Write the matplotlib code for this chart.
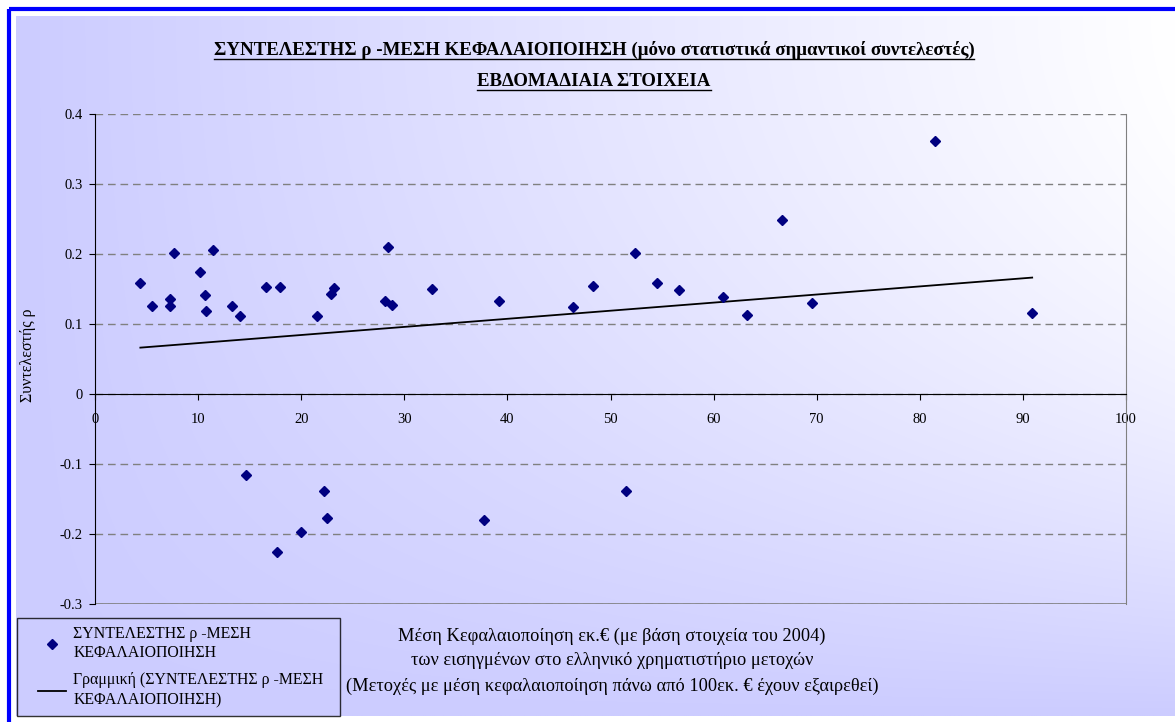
import matplotlib
matplotlib.use("Agg")
import matplotlib.pyplot as plt
import numpy as np
from matplotlib.legend_handler import HandlerLine2D
from matplotlib.lines import Line2D
from matplotlib.patches import Rectangle

plt.rcParams["font.family"] = ["Liberation Serif", "DejaVu Serif"]

# mean market cap (mil. EUR, 2004) and significant rho coefficient per stock
cap = [4.4, 5.5, 7.3, 7.3, 7.7, 10.2, 10.7, 10.8, 11.4, 13.3, 14.1, 16.6, 17.9,
       21.5, 22.9, 23.2, 28.1, 28.4, 28.8, 32.7, 39.2, 46.4, 48.3, 52.4, 54.5,
       56.6, 60.9, 63.2, 66.6, 69.5, 81.5, 90.9,
       14.6, 17.7, 20.0, 22.2, 22.5, 37.7, 51.5]
rho = [0.158, 0.126, 0.136, 0.126, 0.201, 0.175, 0.141, 0.119, 0.206, 0.126,
       0.112, 0.153, 0.153, 0.112, 0.143, 0.152, 0.133, 0.210, 0.127, 0.150,
       0.133, 0.125, 0.155, 0.201, 0.159, 0.149, 0.139, 0.113, 0.249, 0.130,
       0.362, 0.116,
       -0.115, -0.226, -0.197, -0.138, -0.177, -0.180, -0.139]

y_ticks = [-0.3, -0.2, -0.1, 0.0, 0.1, 0.2, 0.3, 0.4]
x_ticks = [0, 10, 20, 30, 40, 50, 60, 70, 80, 90, 100]

title_1 = "ΣΥΝΤΕΛΕΣΤΗΣ ρ -ΜΕΣΗ ΚΕΦΑΛΑΙΟΠΟΙΗΣΗ (μόνο στατιστικά σημαντικοί συντελεστές)"
title_2 = "ΕΒΔΟΜΑΔΙΑΙΑ ΣΤΟΙΧΕΙΑ"
x_label = ("Μέση Κεφαλαιοποίηση εκ.€ (με βάση στοιχεία του 2004)\n"
           "των εισηγμένων στο ελληνικό χρηματιστήριο μετοχών\n"
           "(Μετοχές με μέση κεφαλαιοποίηση πάνω από 100εκ. € έχουν εξαιρεθεί)")
y_label = "Συντελεστής ρ"
series_label = "ΣΥΝΤΕΛΕΣΤΗΣ ρ -ΜΕΣΗ\nΚΕΦΑΛΑΙΟΠΟΙΗΣΗ"
trend_label = "Γραμμική (ΣΥΝΤΕΛΕΣΤΗΣ ρ -ΜΕΣΗ\nΚΕΦΑΛΑΙΟΠΟΙΗΣΗ)"

W, H = 1175, 722
LAVENDER = np.array([204, 204, 255]) / 255
GRID = "#808080"

fig = plt.figure(figsize=(W / 100, H / 100), dpi=100)
fig.patch.set_facecolor("white")

# background layer in pixel coordinates: gradient chart area + blue frame
bg = fig.add_axes([0, 0, 1, 1], zorder=-10)
bg.set_xlim(0, W)
bg.set_ylim(H, 0)
bg.axis("off")
gx = np.linspace(0, 1, 400)
gy = np.linspace(0, 1, 300)
t = gx[None, :] * (1 - gy[:, None] ** 2)
img = LAVENDER + (1 - LAVENDER) * t[..., None]
bg.imshow(img, extent=(16, W, 716, 16), aspect="auto", interpolation="bilinear")
bg.add_patch(Rectangle((9, 9), W + 20, H + 20, fill=False,
                       edgecolor="#0000FF", linewidth=3))

ax = fig.add_axes([95 / W, 1 - 604 / H, (1126 - 95) / W, (604 - 114) / H])
ax.patch.set_alpha(0)
ax.set_xlim(0, 100)
ax.set_ylim(-0.3, 0.4)

ax.plot(cap, rho, "D", color="#000080", markersize=5.5, linestyle="none",
        label=series_label, zorder=4)

slope, intercept = np.polyfit(cap, rho, 1)
x_fit = np.array([min(cap), max(cap)])
ax.plot(x_fit, intercept + slope * x_fit, color="black", linewidth=1.3,
        label=trend_label, zorder=3)

ax.set_yticks(y_ticks)
ax.set_yticklabels(["0" if abs(v) < 1e-9 else f"{v:.1f}" for v in y_ticks])
ax.set_xticks(x_ticks)
ax.yaxis.grid(True, color=GRID, linestyle=(0, (5.5, 3.5)), linewidth=1.0)
ax.set_axisbelow(True)

ax.spines["top"].set_visible(False)
ax.spines["right"].set_color(GRID)
ax.spines["left"].set_color("black")
ax.spines["bottom"].set_position(("data", 0))
ax.spines["bottom"].set_color("black")
ax.axhline(-0.3, color=GRID, linewidth=1.2, zorder=1)
ax.tick_params(axis="y", direction="out", length=4, pad=5, labelsize=10.5)
ax.tick_params(axis="x", direction="out", length=4, pad=10, labelsize=10.5)

fig.text(28 / W, 1 - 355 / H, y_label, rotation=90, ha="center", va="center",
         fontsize=11.5)
fig.text(612 / W, 1 - 661 / H, x_label, ha="center", va="center",
         fontsize=13.2, linespacing=1.6)

titles = [fig.text(594 / W, 1 - 55 / H, title_1, ha="center", va="baseline",
                   fontsize=13.6, fontweight="bold"),
          fig.text(594 / W, 1 - 86 / H, title_2, ha="center", va="baseline",
                   fontsize=13.6, fontweight="bold")]

handler = HandlerLine2D(numpoints=1, xpad=0.8)
leg = ax.legend(loc="lower left", mode="expand",
                bbox_to_anchor=(17 / W, 1 - 716 / H, 323 / W, 99 / H),
                bbox_transform=fig.transFigure, frameon=True, fancybox=False,
                edgecolor="black", facecolor="none",
                prop={"size": 11.4}, handlelength=2.6, handletextpad=0.45,
                borderpad=0.5, labelspacing=0.7, borderaxespad=0,
                handler_map={Line2D: handler})
leg.get_frame().set_linewidth(1.0)
for txt in leg.get_texts():
    txt.set_linespacing(1.3)

# underline the title lines (Excel style)
fig.canvas.draw()
renderer = fig.canvas.get_renderer()
for txt, base in zip(titles, [55, 86]):
    bb = txt.get_window_extent(renderer)
    bg.add_line(Line2D([bb.x0, bb.x1], [base + 4, base + 4], color="black",
                       linewidth=1.0))

fig.savefig("out.png", dpi=100)
